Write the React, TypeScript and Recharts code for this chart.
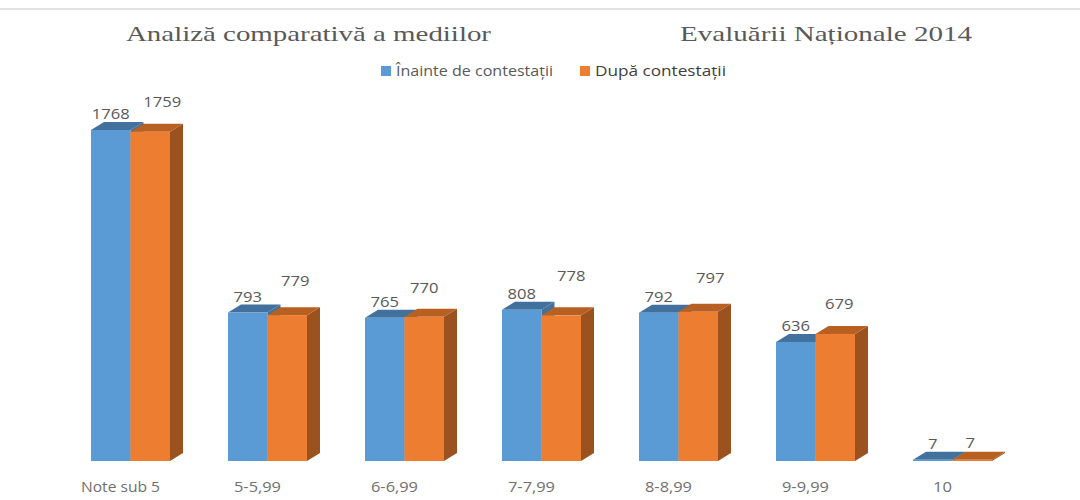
import React from "react";
import { BarChart, Bar, XAxis, YAxis, Legend, LabelList } from "recharts";

const categories = ["Note sub 5", "5-5,99", "6-6,99", "7-7,99", "8-8,99", "9-9,99", "10"];
const inainte = [1768, 793, 765, 808, 792, 636, 7];
const dupa = [1759, 779, 770, 778, 797, 679, 7];
const seriesNames = ["Înainte de contestații", "După contestații"];
const titleLeft = "Analiză comparativă a mediilor";
const titleRight = "Evaluării Naționale 2014";

// hand offsets of the second series' floating value labels
const dupaLabelDx = [12, 8, 0, 10, 12, 4, -2];
const dupaLabelDy = [-31, -35, -30, -40, -35, -31, -18];
// rendered widths of the stretched category labels
const tickWidths = [79, 47, 47, 47, 47, 47, 19];

const rows = categories.map((c, i) => ({ name: c, a: inainte[i], b: dupa[i], w: tickWidths[i] }));

const DEPTH_X = 13;
const DEPTH_Y = 8;
const FONT = "'Open Sans', sans-serif";

function Box(props: any) {
  const { x, y, width, height, front, top, side } = props;
  const r = x + width;
  const b = y + height;
  return (
    <g>
      <path d={`M${r},${y} L${r + DEPTH_X},${y - DEPTH_Y} L${r + DEPTH_X},${b - DEPTH_Y} L${r},${b} Z`} fill={side} />
      <path d={`M${x},${y} L${x + DEPTH_X},${y - DEPTH_Y} L${r + DEPTH_X},${y - DEPTH_Y} L${r},${y} Z`} fill={top} />
      <rect x={x} y={y} width={width} height={height} fill={front} />
    </g>
  );
}

const BlueBox = (p: any) => <Box {...p} front="#5B9BD5" top="#41719C" side="#41719C" />;
const OrangeBox = (p: any) => <Box {...p} front="#ED7D31" top="#B85F22" side="#9C521F" />;

function ValueLabel(props: any) {
  const { x, y, width, value, index, shifted } = props;
  const dx = shifted ? dupaLabelDx[index] : 0;
  const dy = shifted ? dupaLabelDy[index] : -17;
  const len = String(value).length * 9.5;
  return (
    <text x={x + width / 2 + dx} y={y + dy} textAnchor="middle" dominantBaseline="central"
      textLength={len} lengthAdjust="spacingAndGlyphs"
      fontFamily={FONT} fontSize={15} fill="#595959">
      {value}
    </text>
  );
}

function CategoryTick(props: any) {
  const { x, y, payload, index } = props;
  return (
    <text x={x - 10} y={y + 19} textAnchor="middle" dominantBaseline="central"
      textLength={tickWidths[index]} lengthAdjust="spacingAndGlyphs"
      fontFamily={FONT} fontSize={14} fill="#6f6f6f">
      {payload.value}
    </text>
  );
}

function LegendRow(props: any) {
  const items = props.payload || [];
  const lefts = [381, 580];
  const widths = [157, 131];
  return (
    <div style={{ position: "absolute", left: 0, top: 0, width: 0, height: 0 }}>
      {items.map((it: any, i: number) => (
        <React.Fragment key={it.value}>
          <div style={{ position: "absolute", left: lefts[i], top: 66, width: 10, height: 10, background: it.color }} />
          <svg style={{ position: "absolute", left: lefts[i] + 15, top: 60, overflow: "visible" }} width={widths[i]} height={22}>
            <text x={0} y={16} textLength={widths[i]} lengthAdjust="spacingAndGlyphs" fontFamily={FONT}
              fontSize={14.5} fontWeight={i === 1 ? 500 : 400} fill={i === 1 ? "#404040" : "#595959"}>
              {it.value}
            </text>
          </svg>
        </React.Fragment>
      ))}
    </div>
  );
}

export default function App() {
  return (
    <div style={{ position: "absolute", left: 0, top: 0, width: 1080, height: 500, background: "#fff" }}>
      <div style={{ position: "absolute", left: 0, top: 8, width: 1080, height: 2, background: "#e2e2e2" }} />
      <svg style={{ position: "absolute", left: 0, top: 0 }} width={1080} height={60}>
        <text x={126} y={41} textLength={365} lengthAdjust="spacingAndGlyphs"
          fontFamily="'Liberation Serif', serif" fontSize={22} fill="#595959">{titleLeft}</text>
        <text x={680} y={41} textLength={292} lengthAdjust="spacingAndGlyphs"
          fontFamily="'Liberation Serif', serif" fontSize={22} fill="#595959">{titleRight}</text>
      </svg>
      <div style={{ position: "absolute", left: 0, top: 0 }}>
        <BarChart width={1080} height={500} data={rows} barSize={39.5} barGap={0}
          margin={{ top: 130, right: 59, bottom: 0, left: 62 }}>
          <XAxis dataKey="name" axisLine={false} tickLine={false} height={39} interval={0}
            tick={<CategoryTick />} tickMargin={0} />
          <YAxis hide domain={[0, 1768]} />
          <Legend verticalAlign="top" height={0} itemSorter={null}
            wrapperStyle={{ left: 0, top: 0, width: 0, height: 0 }} content={<LegendRow />} />
          <Bar dataKey="a" name={seriesNames[0]} fill="#5B9BD5" isAnimationActive={false} shape={<BlueBox />}>
            <LabelList dataKey="a" content={<ValueLabel />} />
          </Bar>
          <Bar dataKey="b" name={seriesNames[1]} fill="#ED7D31" isAnimationActive={false} shape={<OrangeBox />}>
            <LabelList dataKey="b" content={<ValueLabel shifted />} />
          </Bar>
        </BarChart>
      </div>
    </div>
  );
}
